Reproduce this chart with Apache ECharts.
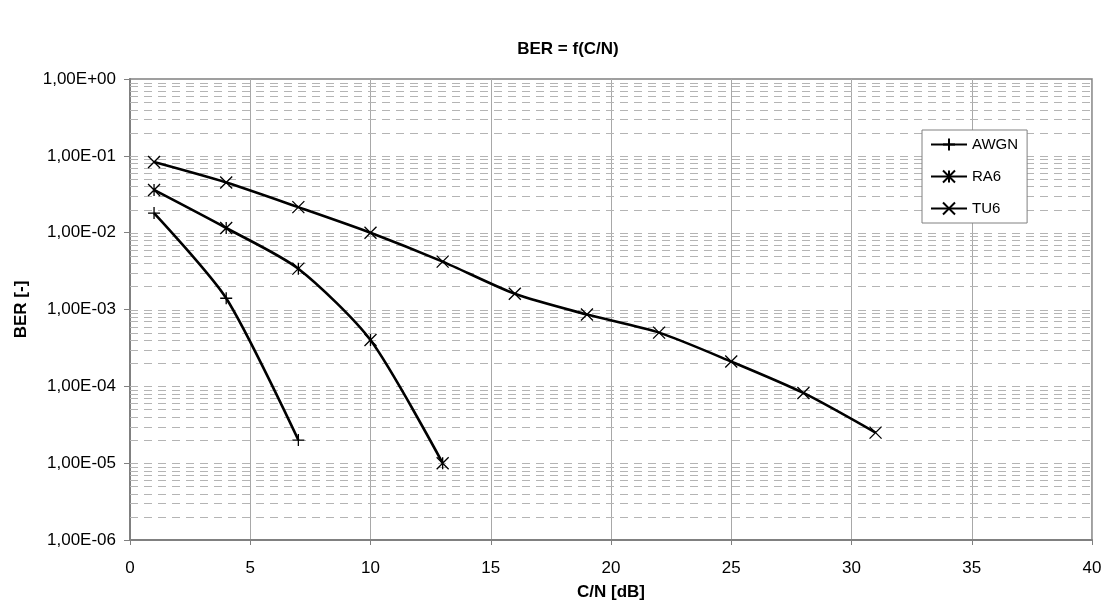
<!DOCTYPE html>
<html>
<head>
<meta charset="utf-8">
<script src="https://cdn.jsdelivr.net/npm/echarts@6/dist/echarts.min.js"></script>
<style>
  html, body { margin: 0; padding: 0; background: #fff; }
  #chart { width: 1104px; height: 603px; }
</style>
</head>
<body>
<div id="chart"></div>
<script>
// C/N points (dB) and measured BER per channel model
const awgnCN = [1, 4, 7];
const awgnBER = [1.8e-2, 1.4e-3, 2.0e-5];

const ra6CN = [1, 4, 7, 10, 13];
const ra6BER = [3.6e-2, 1.15e-2, 3.4e-3, 4.0e-4, 1.0e-5];

const tu6CN = [1, 4, 7, 10, 13, 16, 19, 22, 25, 28, 31];
const tu6BER = [8.3e-2, 4.5e-2, 2.15e-2, 1.0e-2, 4.2e-3, 1.6e-3, 8.6e-4, 5.0e-4, 2.1e-4, 8.2e-5, 2.5e-5];

const seriesNames = ['AWGN', 'RA6', 'TU6'];

// Horizontal dashed grid: 1..9 x 10^n inside each decade
const decadeExponents = [-6, -5, -4, -3, -2, -1];
const decadeMultipliers = [1, 2, 3, 4, 5, 6, 7, 8, 9];

const X_MIN = 0;
const X_MAX = 40;

const FONT = '"Liberation Sans", Arial, sans-serif';

const gridValues = [];
decadeExponents.forEach(e => {
  decadeMultipliers.forEach(m => {
    const v = m * Math.pow(10, e);
    if (v > 1e-6) gridValues.push(v);
  });
});

const pair = (xs, ys) => xs.map((x, i) => [x, ys[i]]);

const PLUS = 'path://M0,6L12,6M6,0L6,12';
const CROSS = 'path://M0,0L12,12M12,0L0,12';
const STAR = 'path://M0,0L12,12M12,0L0,12M6,0L6,12';

function curve(name, data, symbol) {
  return {
    name: name,
    type: 'line',
    data: data,
    smooth: 0.25,
    symbol: symbol,
    symbolSize: 12,
    symbolKeepAspect: true,
    showAllSymbol: true,
    z: 5,
    lineStyle: { color: '#000', width: 2.6 },
    itemStyle: { color: '#000', borderColor: '#000', borderWidth: 1.3 },
    emphasis: { disabled: true }
  };
}

function fmtExp(v) {
  const e = Math.round(Math.log10(v));
  const sign = e < 0 ? '-' : '+';
  const a = Math.abs(e);
  return '1,00E' + sign + (a < 10 ? '0' + a : '' + a);
}

const chart = echarts.init(document.getElementById('chart'), null, { renderer: 'canvas' });

chart.setOption({
  animation: false,
  backgroundColor: '#fff',
  textStyle: { fontFamily: FONT },
  title: {
    text: 'BER = f(C/N)',
    left: 563,
    top: 36,
    textAlign: 'center',
    textStyle: { fontFamily: FONT, fontSize: 17, fontWeight: 'bold', color: '#000' }
  },
  legend: {
    data: seriesNames,
    orient: 'vertical',
    left: 922,
    top: 130,
    padding: [7, 9, 7, 8],
    itemGap: 17,
    itemWidth: 36,
    itemHeight: 15,
    backgroundColor: '#fff',
    borderColor: '#808080',
    borderWidth: 1,
    borderRadius: 0,
    textStyle: { fontFamily: FONT, fontSize: 15, color: '#000' }
  },
  grid: {
    left: 130,
    right: 12,
    top: 79,
    bottom: 63,
    outerBoundsMode: 'none',
    containLabel: false,
    show: true,
    borderColor: '#808080',
    borderWidth: 1.5,
    backgroundColor: '#fff'
  },
  xAxis: {
    type: 'value',
    min: X_MIN,
    max: X_MAX,
    interval: 5,
    name: 'C/N [dB]',
    nameLocation: 'middle',
    nameGap: 44,
    nameTextStyle: { fontFamily: FONT, fontSize: 17, fontWeight: 'bold', color: '#000' },
    axisLine: { show: true, lineStyle: { color: '#808080', width: 2 } },
    axisTick: { show: true, inside: false, length: 5, lineStyle: { color: '#808080', width: 1 } },
    axisLabel: { fontFamily: FONT, fontSize: 17, color: '#000', margin: 20 },
    splitLine: { show: true, lineStyle: { color: '#a8a8a8', width: 1 } }
  },
  yAxis: {
    type: 'log',
    logBase: 10,
    min: 1e-6,
    max: 1,
    name: 'BER [-]',
    nameLocation: 'middle',
    nameGap: 100,
    nameRotate: 90,
    nameTextStyle: { fontFamily: FONT, fontSize: 17, fontWeight: 'bold', color: '#000' },
    axisLine: { show: true, lineStyle: { color: '#808080', width: 2 } },
    axisTick: { show: true, inside: false, length: 6, lineStyle: { color: '#808080', width: 1 } },
    axisLabel: { fontFamily: FONT, fontSize: 17, color: '#000', margin: 14, formatter: fmtExp },
    splitLine: { show: false },
    minorTick: { show: false },
    minorSplitLine: { show: false }
  },
  series: [
    {
      // dashed horizontal grid across the plot, placed through the axes' scales
      name: 'grid',
      type: 'custom',
      z: 1,
      silent: true,
      data: gridValues.map(v => [X_MIN, v]),
      encode: { x: 0, y: 1 },
      renderItem: function (params, api) {
        const v = api.value(1);
        const p1 = api.coord([X_MIN, v]);
        const p2 = api.coord([X_MAX, v]);
        return {
          type: 'line',
          shape: { x1: p1[0], y1: Math.round(p1[1]) + 0.5, x2: p2[0], y2: Math.round(p2[1]) + 0.5 },
          style: { stroke: '#b4b4b4', lineWidth: 1, lineDash: [8, 6] }
        };
      }
    },
    curve('AWGN', pair(awgnCN, awgnBER), PLUS),
    curve('RA6', pair(ra6CN, ra6BER), STAR),
    curve('TU6', pair(tu6CN, tu6BER), CROSS)
  ]
});
</script>
</body>
</html>
